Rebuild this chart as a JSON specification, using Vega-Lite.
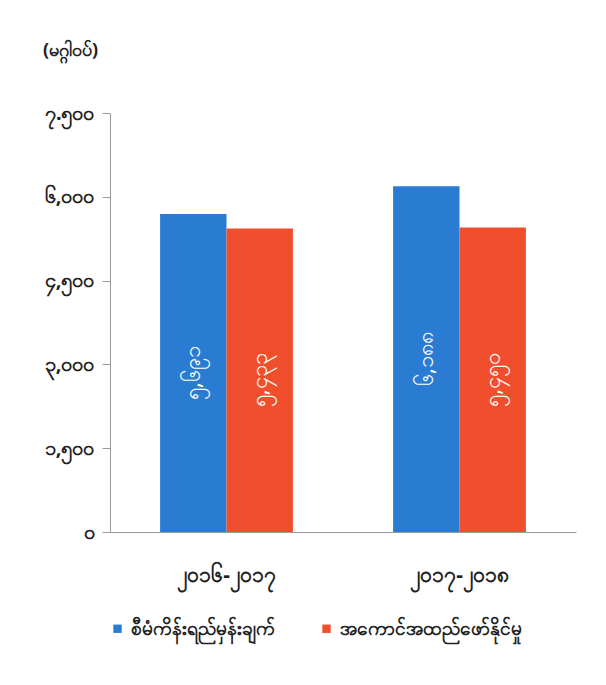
{
  "$schema": "https://vega.github.io/schema/vega-lite/v6.json",
  "autosize": {"type": "none"},
  "width": 466,
  "height": 419,
  "padding": {"left": 110, "top": 113, "right": 30, "bottom": 153},
  "background": "#ffffff",
  "data": {
    "values": [
      {"year": "၂၀၁၆-၂၀၁၇", "series": "စီမံကိန်းရည်မှန်းချက်", "value": 5691, "label": "၅,၆၉၁"},
      {"year": "၂၀၁၆-၂၀၁၇", "series": "အကောင်အထည်ဖော်နိုင်မှု", "value": 5433, "label": "၅,၄၃၃"},
      {"year": "၂၀၁၇-၂၀၁၈", "series": "စီမံကိန်းရည်မှန်းချက်", "value": 6188, "label": "၆,၁၈၈"},
      {"year": "၂၀၁၇-၂၀၁၈", "series": "အကောင်အထည်ဖော်နိုင်မှု", "value": 5450, "label": "၅,၄၅၀"}
    ]
  },
  "encoding": {
    "x": {
      "field": "year", "type": "nominal", "sort": null,
      "scale": {"paddingInner": 0.43, "paddingOuter": 0.215},
      "axis": {
        "title": null, "labelAngle": 0, "ticks": false, "labelPadding": 32,
        "labelFontSize": 21, "labelColor": "#222222", "domainColor": "#9a9a9a",
        "labelFont": "Noto Sans", "labelFontWeight": "bold"
      }
    },
    "xOffset": {"field": "series", "type": "nominal", "sort": null}
  },
  "layer": [
    {
      "mark": {"type": "bar"},
      "encoding": {
        "y": {
          "field": "value", "type": "quantitative",
          "scale": {"domain": [0, 7500], "nice": false, "zero": true},
          "axis": {
            "values": [0, 1500, 3000, 4500, 6000, 7500],
            "labelExpr": "datum.value == 0 ? '၀' : datum.value == 1500 ? '၁,၅၀၀' : datum.value == 3000 ? '၃,၀၀၀' : datum.value == 4500 ? '၄,၅၀၀' : datum.value == 6000 ? '၆,၀၀၀' : '၇.၅၀၀'",
            "grid": false, "tickSize": 8, "tickColor": "#9a9a9a", "domainColor": "#9a9a9a",
            "labelPadding": 8, "labelFontSize": 20, "labelColor": "#222222", "labelFont": "Noto Sans",
            "labelFontWeight": "bold",
            "title": "(မဂ္ဂါဝပ်)", "titleAngle": 0, "titleX": -40, "titleY": -63,
            "titleAlign": "center", "titleBaseline": "middle", "titleFontSize": 18,
            "titleFontWeight": "bold", "titleColor": "#222222", "titleFont": "Noto Sans"
          }
        },
        "color": {
          "field": "series", "type": "nominal", "sort": null,
          "scale": {"range": ["#2a7bd2", "#f04e2c"]},
          "legend": {
            "title": null, "orient": "none", "direction": "horizontal",
            "legendX": -2, "legendY": 506, "symbolType": "square", "symbolSize": 70,
            "symbolStrokeWidth": 0, "symbolOpacity": 1, "labelFontSize": 19, "labelColor": "#222222",
            "labelFont": "Noto Sans", "labelFontWeight": "bold", "columnPadding": 42, "labelOffset": 4, "labelLimit": 300
          }
        }
      }
    },
    {
      "transform": [{"calculate": "datum.value / 2", "as": "mid"}],
      "mark": {"type": "text", "angle": 270, "color": "#ffffff", "fontSize": 22, "align": "center", "baseline": "middle", "font": "Noto Sans"},
      "encoding": {
        "y": {"field": "mid", "type": "quantitative", "scale": {"domain": [0, 7500], "nice": false}},
        "text": {"field": "label"}
      }
    }
  ],
  "config": {"view": {"stroke": null}}
}
